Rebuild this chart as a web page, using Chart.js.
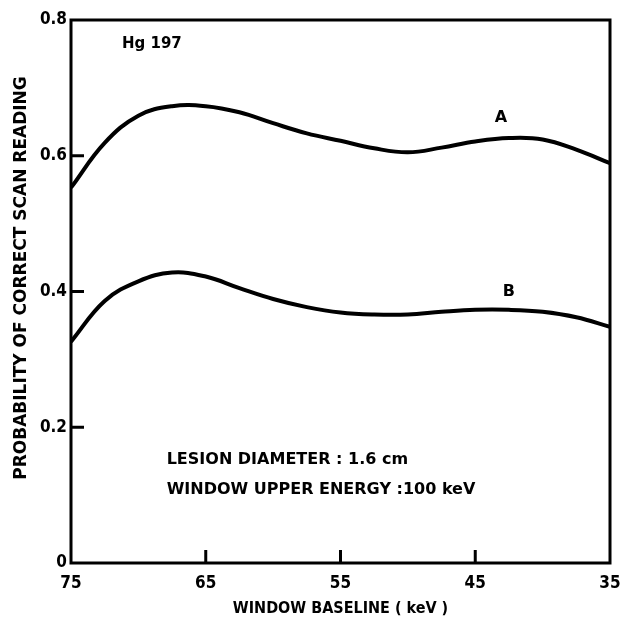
<!DOCTYPE html>
<html>
<head>
<meta charset="utf-8">
<script src="https://cdn.jsdelivr.net/npm/chart.js@4"></script>
<style>
  html, body { margin: 0; padding: 0; background: #fff; }
  canvas { display: block; }
</style>
</head>
<body>
<canvas id="chart" width="620" height="618"></canvas>
<script>
// Hg 197 - probability of correct scan reading vs window baseline

const baseline = [75, 72.5, 70, 67.5, 65, 62.5, 60, 57.5, 55, 52.5, 50, 47.5, 45, 42.5, 40, 37.5, 35];
const probA = [0.553, 0.619, 0.659, 0.673, 0.673, 0.664, 0.648, 0.633, 0.622, 0.611, 0.605, 0.612, 0.621, 0.626, 0.624, 0.609, 0.589];
const probB = [0.326, 0.386, 0.415, 0.428, 0.422, 0.405, 0.389, 0.377, 0.369, 0.366, 0.366, 0.370, 0.373, 0.373, 0.370, 0.362, 0.348];

const xTicks = [75, 65, 55, 45, 35];
const yTicks = [0, 0.2, 0.4, 0.6, 0.8];

const CONDENSED = "'DejaVu Sans Condensed', 'Liberation Sans Narrow', 'DejaVu Sans', sans-serif";
const WIDE = "'DejaVu Sans', 'Liberation Sans', sans-serif";

const notes = [
  { text: "Hg 197", x: 69.0, y: 0.765, size: 15, align: "center" },
  { text: "A", x: 43.1, y: 0.656, size: 16, align: "center" },
  { text: "B", x: 42.5, y: 0.400, size: 16, align: "center" },
  { text: "LESION DIAMETER : 1.6 cm", x: 67.9, y: 0.152, size: 16, align: "left" },
  { text: "WINDOW UPPER ENERGY :100 keV", x: 67.9, y: 0.108, size: 16, align: "left" },
];

const toPoints = (vals) => baseline.map((b, i) => ({ x: b, y: vals[i] }));

const framePlugin = {
  id: "frame",
  afterDraw(chart) {
    const { ctx, chartArea: a, scales: { x, y } } = chart;
    ctx.save();
    ctx.strokeStyle = "#000";
    ctx.lineWidth = 3;
    ctx.strokeRect(a.left, a.top, a.right - a.left, a.bottom - a.top);

    // inward tick marks
    ctx.beginPath();
    yTicks.slice(1, -1).forEach((v) => {
      const py = y.getPixelForValue(v);
      ctx.moveTo(a.left, py);
      ctx.lineTo(a.left + 13, py);
    });
    xTicks.slice(1, -1).forEach((v) => {
      const px = x.getPixelForValue(v);
      ctx.moveTo(px, a.bottom);
      ctx.lineTo(px, a.bottom - 13);
    });
    ctx.stroke();

    // annotations
    ctx.fillStyle = "#000";
    ctx.textBaseline = "middle";
    notes.forEach((n) => {
      ctx.font = "bold " + n.size + "px " + WIDE;
      ctx.textAlign = n.align;
      ctx.fillText(n.text, x.getPixelForValue(n.x), y.getPixelForValue(n.y));
    });

    // y axis title, sits a bit above the centre of the axis
    ctx.translate(22, 278);
    ctx.rotate(-Math.PI / 2);
    ctx.textAlign = "center";
    ctx.font = "bold 17px " + WIDE;
    ctx.fillText("PROBABILITY OF CORRECT SCAN READING", 0, 0);
    ctx.restore();
  },
};

new Chart(document.getElementById("chart"), {
  type: "line",
  data: {
    datasets: [
      {
        label: "A",
        data: toPoints(probA),
        borderColor: "#000",
        borderWidth: 4,
        pointRadius: 0,
        tension: 0.4,
        fill: false,
      },
      {
        label: "B",
        data: toPoints(probB),
        borderColor: "#000",
        borderWidth: 4,
        pointRadius: 0,
        tension: 0.4,
        fill: false,
      },
    ],
  },
  options: {
    responsive: false,
    animation: false,
    layout: { padding: { top: 20, right: 10, left: 0, bottom: 0 } },
    plugins: {
      legend: { display: false },
      tooltip: { enabled: false },
    },
    scales: {
      x: {
        type: "linear",
        reverse: true,
        min: 35,
        max: 75,
        grid: { display: false, drawTicks: false },
        border: { display: false },
        afterBuildTicks: (s) => { s.ticks = xTicks.map((v) => ({ value: v })); },
        afterFit: (s) => { s.height = 55; s.paddingLeft = 0; s.paddingRight = 0; },
        ticks: {
          color: "#000",
          padding: 10,
          font: { family: CONDENSED, size: 17, weight: "bold" },
          callback: (v) => String(v),
        },
        title: {
          display: true,
          text: "WINDOW BASELINE ( keV )",
          color: "#000",
          font: { family: CONDENSED, size: 16, weight: "bold" },
          padding: { top: 0, bottom: 0 },
        },
      },
      y: {
        min: 0,
        max: 0.8,
        grid: { display: false, drawTicks: false },
        border: { display: false },
        afterBuildTicks: (s) => { s.ticks = yTicks.map((v) => ({ value: v })); },
        afterFit: (s) => { s.width = 71; s.paddingTop = 0; s.paddingBottom = 0; },
        ticks: {
          color: "#000",
          padding: 4,
          font: { family: CONDENSED, size: 17, weight: "bold" },
          callback: (v) => (v === 0 ? "0" : v.toFixed(1)),
        },
      },
    },
  },
  plugins: [framePlugin],
});
</script>
</body>
</html>
